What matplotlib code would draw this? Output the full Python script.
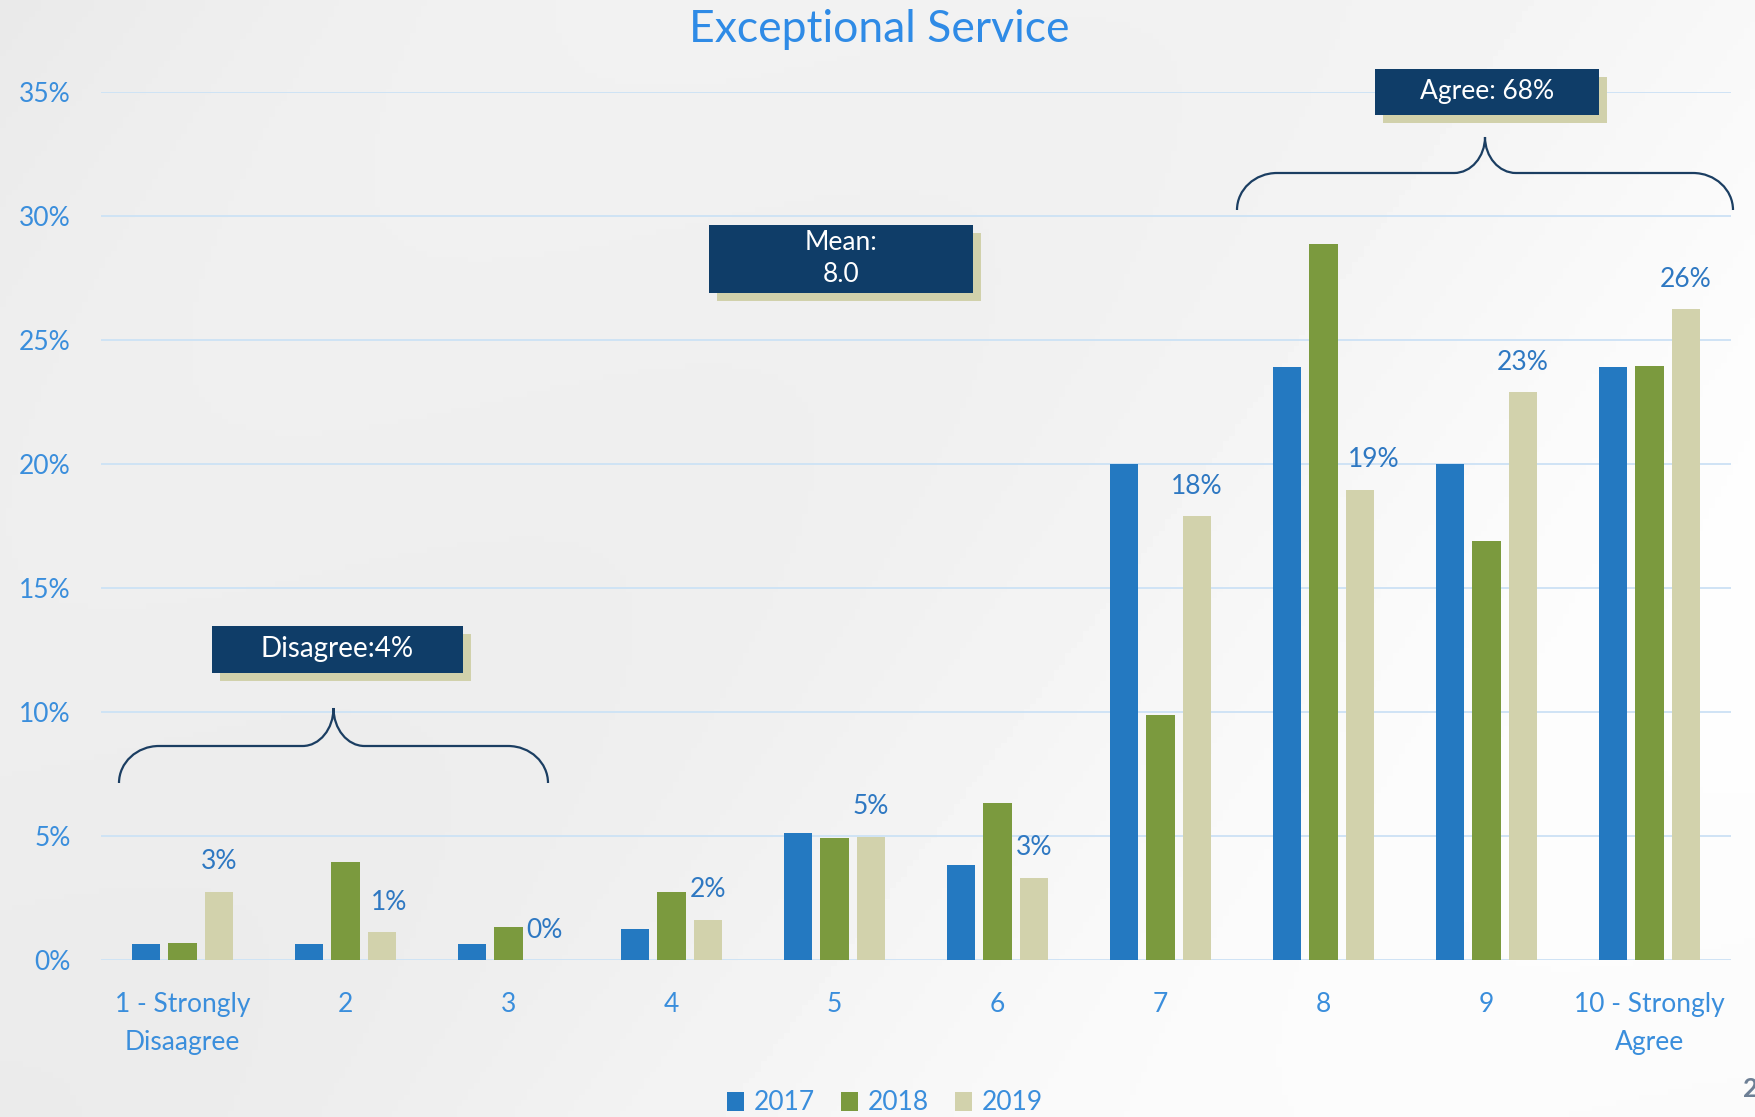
import numpy as np
import matplotlib
matplotlib.use("Agg")
import matplotlib.pyplot as plt
from matplotlib.patches import Rectangle, PathPatch
from matplotlib.path import Path

plt.rcParams['font.family'] = ['Lato', 'DejaVu Sans']

categories = ['1 - Strongly\nDisaagree', '2', '3', '4', '5', '6', '7', '8', '9', '10 - Strongly\nAgree']
years = ['2017', '2018', '2019']
vals_2017 = [0.63, 0.63, 0.63, 1.26, 5.14, 3.84, 20.0, 23.9, 20.0, 23.9]
vals_2018 = [0.68, 3.97, 1.35, 2.76, 4.9, 6.32, 9.86, 28.86, 16.9, 23.94]
vals_2019 = [2.76, 1.13, 0.0, 1.63, 4.97, 3.32, 17.9, 18.97, 22.9, 26.24]
yticks = [0, 5, 10, 15, 20, 25, 30, 35]
# sideways nudge (points) Excel applied to crowded labels
label_dx = [0, 5, 0, 0, 0, 0, 0, 10, 0, 0]

colors = ['#2479C1', '#7B9A3E', '#D2D2AC']
navy = '#0F3D68'
shadow = '#D1D1AB'
tick_col = '#3A8EDC'
lab_col = '#2E78C2'

W, H = 1756, 1117
fig = plt.figure(figsize=(W / 100, H / 100), dpi=100)

# background
bg = fig.add_axes([0, 0, 1, 1], zorder=-5)
gx, gy = np.meshgrid(np.linspace(0, 1, 300), np.linspace(0, 1, 200))
shade = 0.915 + 0.06 * gx + 0.015 * gy + 0.012 * np.sin(6 * gx + 4 * gy)
bg.imshow(np.clip(shade, 0, 1), cmap='gray', vmin=0, vmax=1, aspect='auto', extent=[0, 1, 0, 1])
bg.axis('off')

ax = fig.add_axes([101 / W, 1 - 960 / H, 1630 / W, 868 / H])
ax.set_facecolor('none')
x = np.arange(len(categories))
off = 0.223
bw = 0.174
series = [vals_2017, vals_2018, vals_2019]
for i, (yr, v) in enumerate(zip(years, series)):
    ax.bar(x + (i - 1) * off, v, bw, color=colors[i], label=yr, zorder=3)

for xi, v, dx in zip(x, vals_2019, label_dx):
    ax.annotate(f"{v:.0f}%", (xi + off, v), xytext=(dx, 21.5), textcoords='offset points',
                ha='center', va='center', fontsize=19, color=lab_col)

ax.set_xlim(-0.5, len(categories) - 0.5)
ax.set_ylim(0, 35)
ax.set_yticks(yticks)
ax.set_yticklabels([f"{t}%" for t in yticks])
ax.set_xticks(x)
ax.set_xticklabels(categories, linespacing=1.65)
ax.tick_params(axis='y', length=0, pad=22, labelsize=19, labelcolor=tick_col)
ax.tick_params(axis='x', length=0, pad=23, labelsize=19, labelcolor=tick_col)
ax.grid(axis='y', color='#CFE3F5', lw=1.4, zorder=0)
for s in ax.spines.values():
    s.set_visible(False)

fig.text(879 / W, 1 - 30 / H, 'Exceptional Service', ha='center', va='center',
         fontsize=32, color='#2F8BE6')

fig.legend(loc='center', bbox_to_anchor=(885 / W, 1 - 1103 / H), ncol=3, frameon=False,
           fontsize=19, labelcolor=tick_col, handlelength=0.65, handleheight=0.72,
           handletextpad=0.35, columnspacing=1.0)

fig.text(1743 / W, 1 - 1089 / H, '2', ha='left', va='center', fontsize=19,
         fontweight='bold', color='#6D7F95')

# overlay in pixel space for the callouts
ov = fig.add_axes([0, 0, 1, 1], zorder=5)
ov.set_xlim(0, W)
ov.set_ylim(H, 0)
ov.axis('off')
ov.patch.set_alpha(0)


def callout(x0, y0, w, h, txt, fs=19):
    ov.add_patch(Rectangle((x0 + 8, y0 + 8), w, h, color=shadow, lw=0))
    ov.add_patch(Rectangle((x0, y0), w, h, color=navy, lw=0))
    ov.text(x0 + w / 2, y0 + h / 2, txt, ha='center', va='center', color='white',
            fontsize=fs, linespacing=1.35)


def brace(x0, x1, y_end, y_mid, y_tip, r=40, tr=31):
    k = 0.5523
    xm = (x0 + x1) / 2
    verts = [(x0, y_end), (x0, y_end - k * (y_end - y_mid)), (x0 + r - k * r, y_mid), (x0 + r, y_mid),
             (xm - tr, y_mid),
             (xm - tr + k * tr, y_mid), (xm, y_tip + k * (y_mid - y_tip)), (xm, y_tip),
             (xm, y_tip + k * (y_mid - y_tip)), (xm + tr - k * tr, y_mid), (xm + tr, y_mid),
             (x1 - r, y_mid),
             (x1 - r + k * r, y_mid), (x1, y_end - k * (y_end - y_mid)), (x1, y_end)]
    codes = [Path.MOVETO, Path.CURVE4, Path.CURVE4, Path.CURVE4, Path.LINETO,
             Path.CURVE4, Path.CURVE4, Path.CURVE4,
             Path.CURVE4, Path.CURVE4, Path.CURVE4, Path.LINETO,
             Path.CURVE4, Path.CURVE4, Path.CURVE4]
    ov.add_patch(PathPatch(Path(verts, codes), fill=False, edgecolor='#1B3E62', lw=1.6))


callout(1375, 69, 224, 46, 'Agree: 68%')
callout(709, 225, 264, 68, 'Mean:\n8.0')
callout(212, 626, 251, 47, 'Disagree:4%', fs=20)
brace(119, 548, 783, 746, 708)
brace(1237, 1733, 210, 173, 137)

fig.savefig('out.png', dpi=100)
